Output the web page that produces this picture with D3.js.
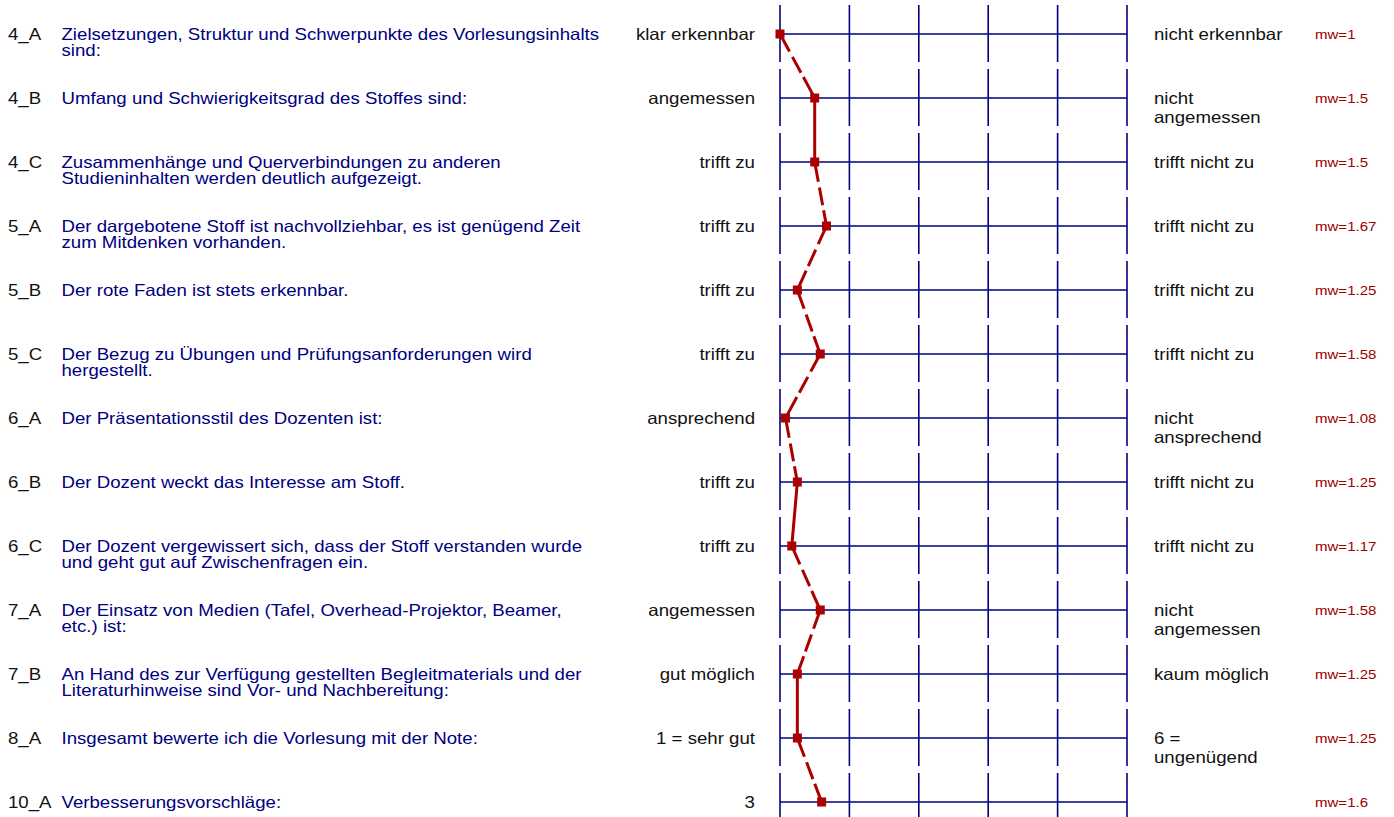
<!DOCTYPE html>
<html>
<head>
<meta charset="utf-8">
<script src="https://cdn.jsdelivr.net/npm/d3@7"></script>
<style>
  html, body { margin: 0; padding: 0; background: #fff; }
  svg { display: block; font-family: "Liberation Sans", Arial, sans-serif; }
</style>
</head>
<body>
<svg id="chart" width="1394" height="817"></svg>
<script>
const ids = ["4_A","4_B","4_C","5_A","5_B","5_C","6_A","6_B","6_C","7_A","7_B","8_A","10_A"];
const questions = [
  ["Zielsetzungen, Struktur und Schwerpunkte des Vorlesungsinhalts", "sind:"],
  ["Umfang und Schwierigkeitsgrad des Stoffes sind:"],
  ["Zusammenhänge und Querverbindungen zu anderen", "Studieninhalten werden deutlich aufgezeigt."],
  ["Der dargebotene Stoff ist nachvollziehbar, es ist genügend Zeit", "zum Mitdenken vorhanden."],
  ["Der rote Faden ist stets erkennbar."],
  ["Der Bezug zu Übungen und Prüfungsanforderungen wird", "hergestellt."],
  ["Der Präsentationsstil des Dozenten ist:"],
  ["Der Dozent weckt das Interesse am Stoff."],
  ["Der Dozent vergewissert sich, dass der Stoff verstanden wurde", "und geht gut auf Zwischenfragen ein."],
  ["Der Einsatz von Medien (Tafel, Overhead-Projektor, Beamer,", "etc.) ist:"],
  ["An Hand des zur Verfügung gestellten Begleitmaterials und der", "Literaturhinweise sind Vor- und Nachbereitung:"],
  ["Insgesamt bewerte ich die Vorlesung mit der Note:"],
  ["Verbesserungsvorschläge:"]
];
const leftLabels = ["klar erkennbar","angemessen","trifft zu","trifft zu","trifft zu","trifft zu","ansprechend","trifft zu","trifft zu","angemessen","gut möglich","1 = sehr gut","3"];
const rightLabels = [
  ["nicht erkennbar"], ["nicht","angemessen"], ["trifft nicht zu"], ["trifft nicht zu"], ["trifft nicht zu"], ["trifft nicht zu"],
  ["nicht","ansprechend"], ["trifft nicht zu"], ["trifft nicht zu"], ["nicht","angemessen"], ["kaum möglich"], ["6 =","ungenügend"], []
];
const means = [1, 1.5, 1.5, 1.67, 1.25, 1.58, 1.08, 1.25, 1.17, 1.58, 1.25, 1.25, 1.6];
const scaleTicks = [1, 2, 3, 4, 5, 6];

const svg = d3.select("#chart");
const x = d3.scaleLinear().domain([1, 6]).range([780, 1127]);
const y = d3.scalePoint().domain(ids).range([34, 802]);

const gridColor = "#00007f";
const textNavy = "#000080";
const red = "#aa0000";
const fs = 16.5;
const sx = 1.13;   // horizontal stretch of the lettering
const by = 6;      // baseline offset from row line

// grid
const grid = svg.append("g").selectAll("g").data(ids).join("g")
  .attr("transform", d => `translate(0,${y(d)})`);
grid.each(function() {
  const g = d3.select(this);
  g.selectAll("line.v").data(scaleTicks).join("line")
    .attr("class", "v")
    .attr("x1", t => x(t)).attr("x2", t => x(t))
    .attr("y1", -29).attr("y2", 28)
    .attr("stroke", gridColor).attr("stroke-width", 1.6);
  g.append("line")
    .attr("x1", x(1)).attr("x2", x(6)).attr("y1", 0).attr("y2", 0)
    .attr("stroke", gridColor).attr("stroke-width", 1.6);
});

// texts (stretched horizontally)
const rows = svg.append("g").attr("transform", `scale(${sx},1)`)
  .selectAll("g").data(ids).join("g")
  .attr("transform", d => `translate(0,${y(d)})`);

rows.append("text").attr("x", 8 / sx).attr("y", by)
  .attr("font-size", fs).attr("fill", "#111").text(d => d);

rows.append("text").attr("x", 61.5 / sx).attr("y", by)
  .attr("font-size", fs).attr("fill", textNavy)
  .selectAll("tspan").data((d, i) => questions[i]).join("tspan")
  .attr("x", 61.5 / sx).attr("dy", (l, j) => j === 0 ? 0 : 16).text(l => l);

rows.append("text").attr("x", 755 / sx).attr("y", by)
  .attr("font-size", fs).attr("fill", "#111").attr("text-anchor", "end")
  .text((d, i) => leftLabels[i]);

rows.append("text").attr("x", 1154 / sx).attr("y", by)
  .attr("font-size", fs).attr("fill", "#111")
  .selectAll("tspan").data((d, i) => rightLabels[i]).join("tspan")
  .attr("x", 1154 / sx).attr("dy", (l, j) => j === 0 ? 0 : 19).text(l => l);

rows.append("text").attr("x", 1315 / sx).attr("y", 5)
  .attr("font-size", 13.3).attr("fill", "#990000")
  .text((d, i) => "mw=" + means[i]);

// profile line (per segment dashed)
const pts = ids.map((d, i) => [x(means[i]), y(d)]);
const segs = d3.pairs(pts);
svg.append("g").selectAll("line").data(segs).join("line")
  .attr("x1", s => s[0][0]).attr("y1", s => s[0][1])
  .attr("x2", s => s[1][0]).attr("y2", s => s[1][1])
  .attr("stroke", red).attr("stroke-width", 3)
  .attr("stroke-dasharray", s => {
    const dx = Math.abs(s[1][0] - s[0][0]);
    return dx > 8 ? "20,6,18,5" : null;
  });

// markers
svg.append("g").selectAll("rect").data(pts).join("rect")
  .attr("x", p => p[0] - 4.5).attr("y", p => p[1] - 4.5)
  .attr("width", 9).attr("height", 9).attr("fill", red);
</script>
</body>
</html>
